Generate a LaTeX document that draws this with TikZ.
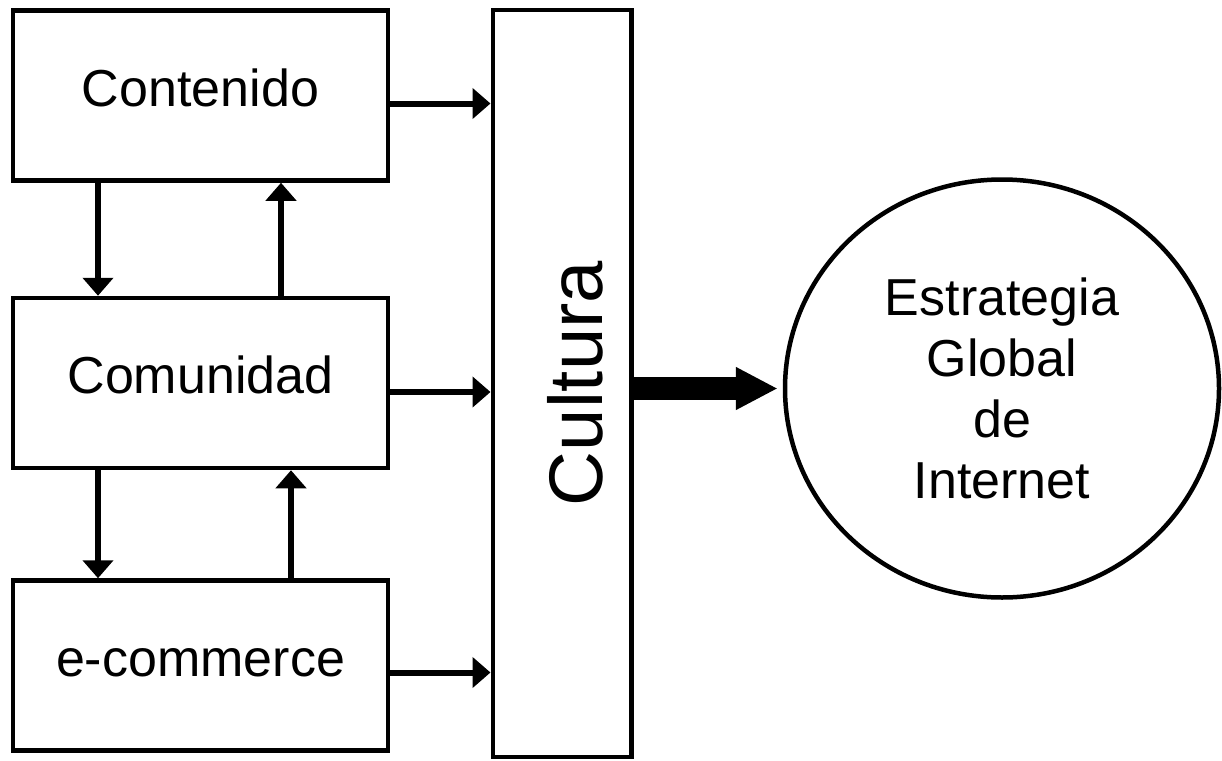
\documentclass[tikz,border=0pt]{standalone}
\usepackage{fontspec}
\setmainfont{Liberation Sans}
\usetikzlibrary{arrows.meta,positioning,shapes.geometric}

\begin{document}
\begin{tikzpicture}[x=1pt, y=-1pt, every node/.style={
    rectangle,
    draw,
    line width=4.5pt,
    inner sep=0pt,
    font=\fontsize{52}{61}\selectfont
}, flow_box/.style={
    minimum width=375pt,
    minimum height=170pt,
    text height=37pt,
    text depth=16pt
}, link/.style={
    -{Triangle[length=18pt, width=30pt]},
    line width=6pt
}]
    \useasboundingbox (0, 0) rectangle (1222, 760);
    \node (contenido) [flow_box, shift={(200.5, 95.5)}]
    {
        Contenido
    };
    \node (comunidad) [flow_box, shift={(200.5, 383)}]
    {
        Comunidad
    };
    \node (ecommerce) [flow_box, shift={(200.5, 665.5)}]
    {
        e-commerce
    };
    % rotated: north is the left side, south the right side
    \node (cultura) [shift={(562, 383.5)}, rotate=90, minimum width=747pt,
        minimum height=138.5pt, text height=81pt, text depth=0pt,
        font=\fontsize{76}{90}\selectfont]
    {
        Cultura
    };
    \node (estrategia) [ellipse, minimum width=434pt, minimum height=418pt,
        align=center, shift={(1002, 388.5)}]
    {
        Estrategia\\Global\\de\\Internet
    };
    \foreach \src/\dy in {contenido/8, comunidad/9, ecommerce/7}
        \draw[link] ([yshift=-\dy pt]\src.east) coordinate (\src_out)
            -- (\src_out -| cultura.north);
    \draw[link] ([xshift=-102.5pt]contenido.south) -- ([xshift=-102.5pt]comunidad.north);
    \draw[link] ([xshift=80.5pt]comunidad.north) -- ([xshift=80.5pt]contenido.south);
    \draw[link] ([xshift=-102.5pt]comunidad.south) -- ([xshift=-102.5pt]ecommerce.north);
    \draw[link] ([xshift=90.5pt]ecommerce.north) -- ([xshift=90.5pt]comunidad.south);
    \draw[-{Triangle[length=42pt, width=40pt]}, line width=23pt, shorten >=5pt]
        (estrategia.west -| cultura.south) -- (estrategia.west);
\end{tikzpicture}
\end{document}
